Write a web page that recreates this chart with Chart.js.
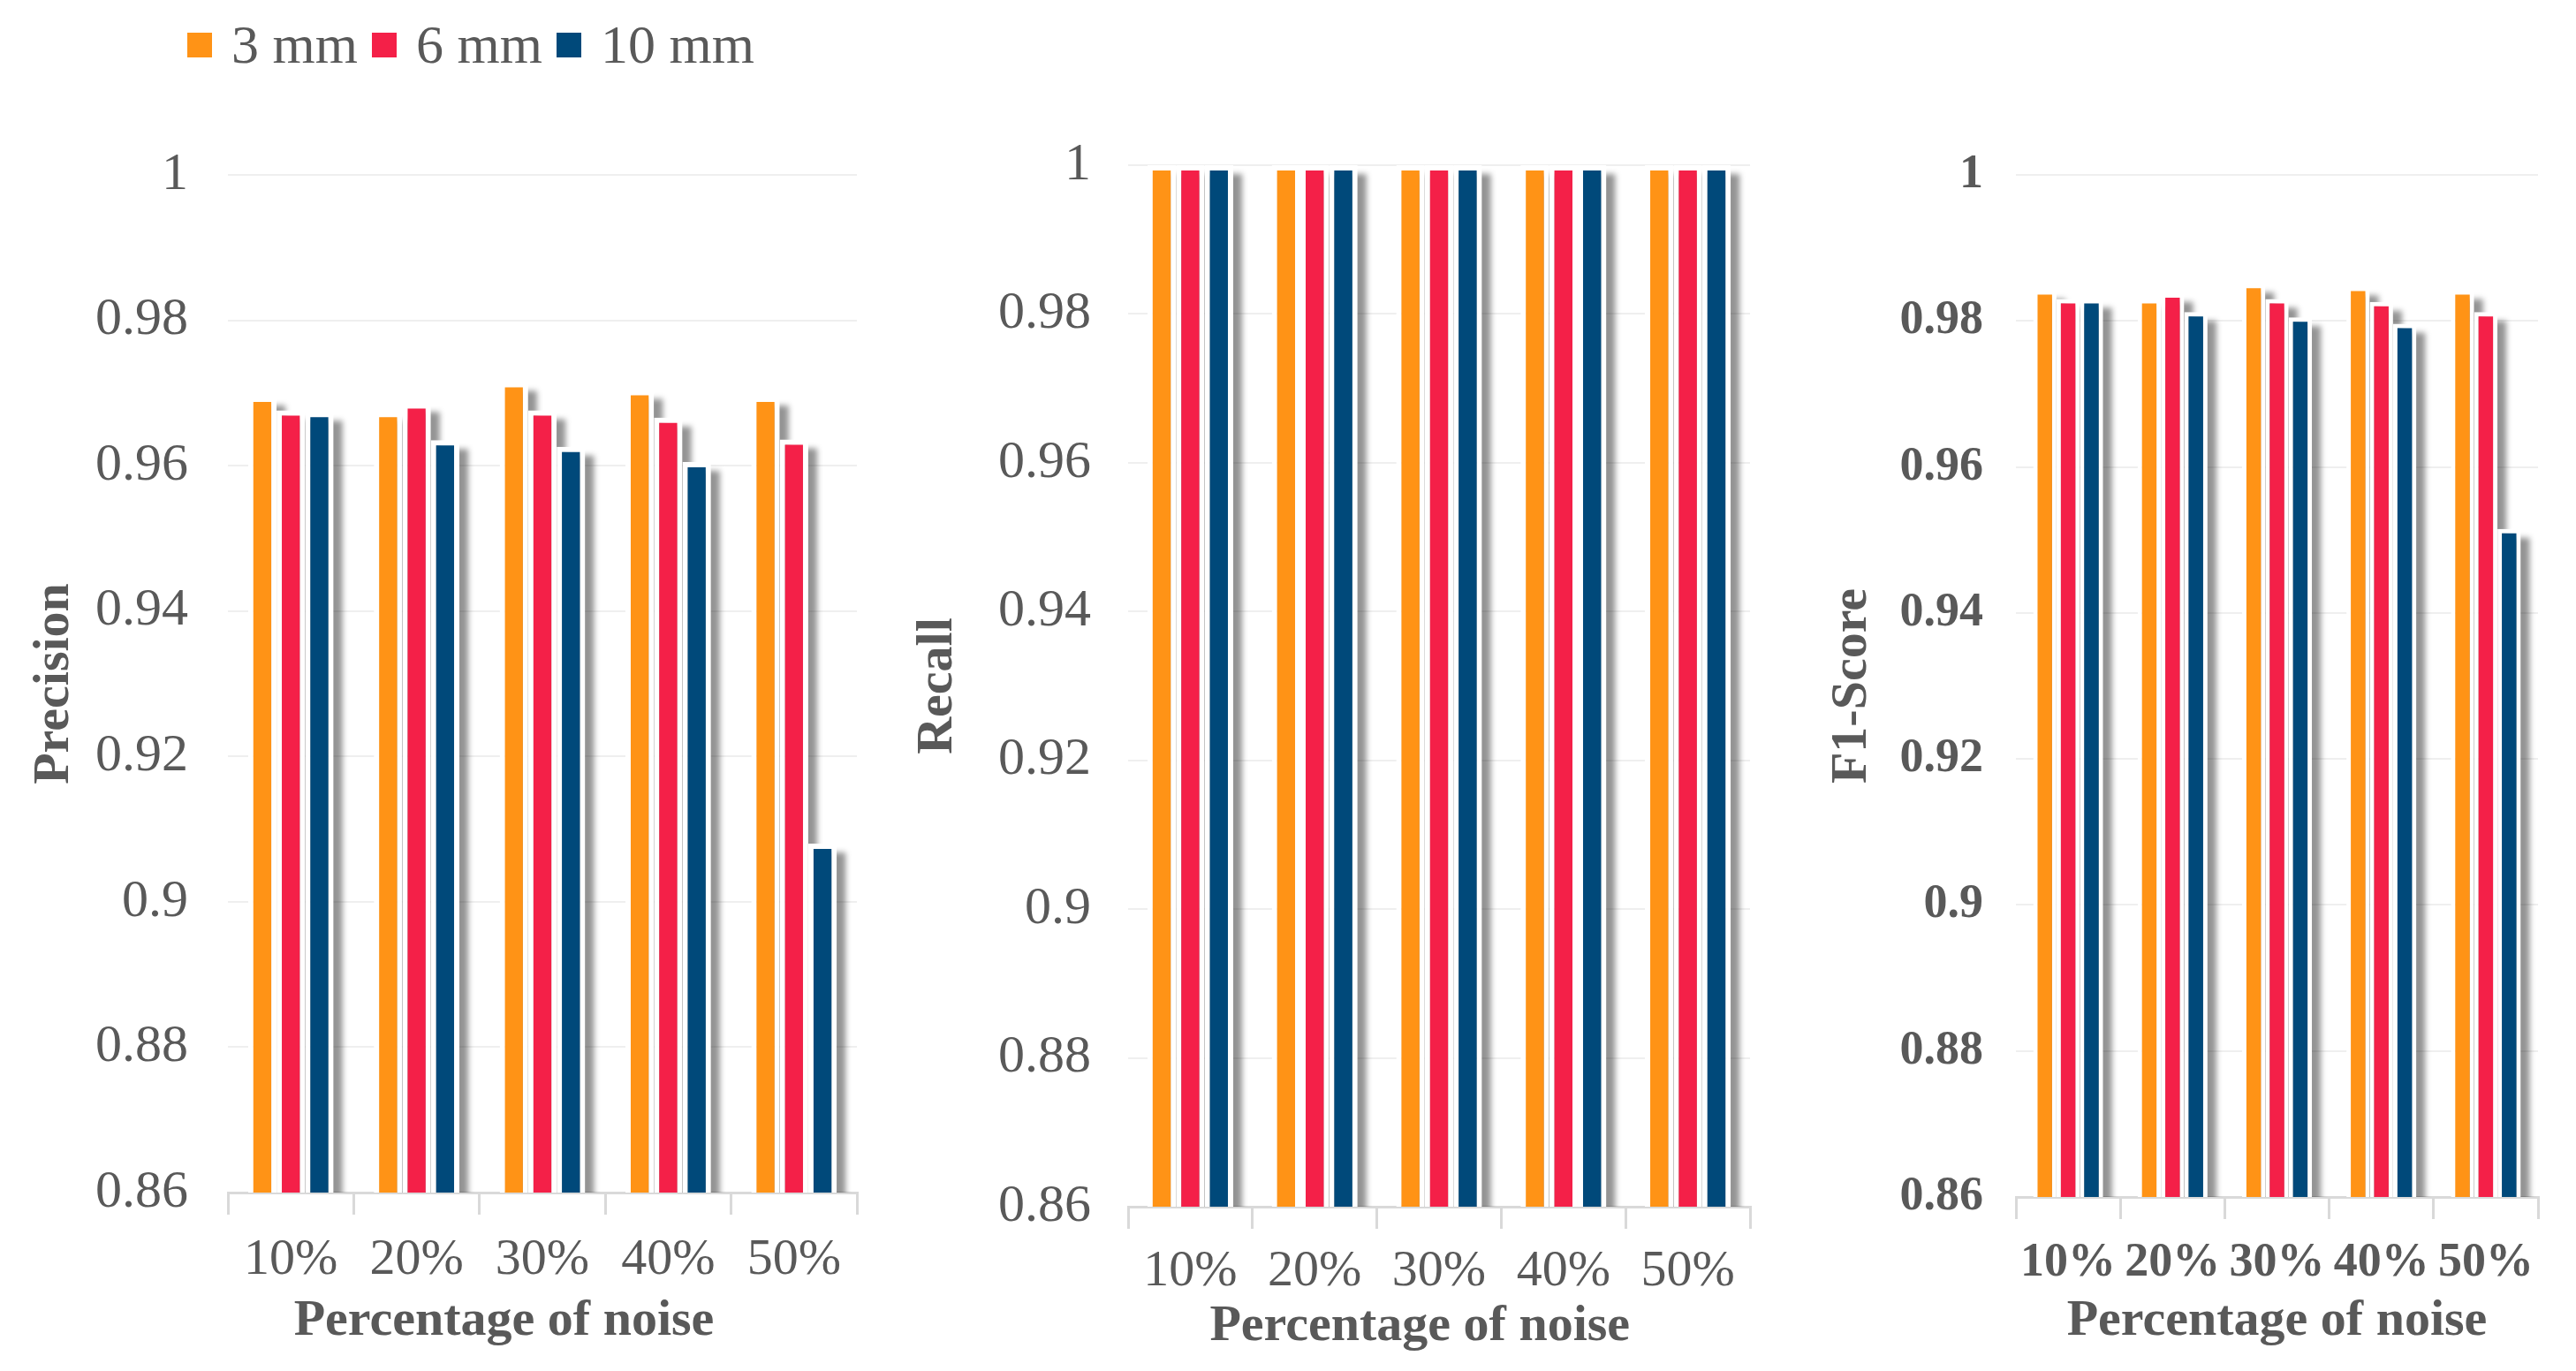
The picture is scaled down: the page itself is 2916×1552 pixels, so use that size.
<!DOCTYPE html>
<html>
<head>
<meta charset="utf-8">
<script src="https://cdn.jsdelivr.net/npm/chart.js@4.4.1/dist/chart.umd.min.js"></script>
<style>
  html, body { margin: 0; padding: 0; background: #fff; }
  body { width: 2916px; height: 1552px; position: relative; overflow: hidden; }
  .box { position: absolute; }
  #legend {
    position: absolute; left: 212px; top: 15px; display: flex; align-items: center;
    font-family: 'Liberation Serif', serif; font-size: 62px; color: #595959;
  }
  #legend .sw { width: 28px; height: 28px; margin-right: 22px; }
  #legend .lb { margin-right: 16px; }
</style>
</head>
<body>
<div id="legend"></div>
<div class="box" style="left:0px;top:150px;"><canvas id="precisionChart" width="990" height="1402"></canvas></div>
<div class="box" style="left:1000px;top:140px;"><canvas id="recallChart" width="1000" height="1412"></canvas></div>
<div class="box" style="left:2035px;top:150px;"><canvas id="f1Chart" width="881" height="1402"></canvas></div>
<script>
// data
const categories = ['10%', '20%', '30%', '40%', '50%'];
const seriesNames = ['3 mm', '6 mm', '10 mm'];
const seriesColors = ['#FF9316', '#F42048', '#00497A'];

const precision3 = [0.9695, 0.9674, 0.9715, 0.9704, 0.9695];
const precision6 = [0.9676, 0.9686, 0.9676, 0.9666, 0.9636];
const precision10 = [0.9674, 0.9635, 0.9626, 0.9605, 0.9080];

const recall3 = [1, 1, 1, 1, 1];
const recall6 = [1, 1, 1, 1, 1];
const recall10 = [1, 1, 1, 1, 1];

const f1Score3 = [0.9842, 0.9830, 0.9851, 0.9847, 0.9842];
const f1Score6 = [0.9830, 0.9838, 0.9830, 0.9826, 0.9812];
const f1Score10 = [0.9830, 0.9812, 0.9805, 0.9796, 0.9515];

const yMin = 0.86, yMax = 1, yStep = 0.02;
const textColor = '#595959';
const serif = "'Liberation Serif', serif";

// html legend
const legendEl = document.getElementById('legend');
seriesNames.forEach((name, i) => {
    const sw = document.createElement('span');
    sw.className = 'sw';
    sw.style.background = seriesColors[i];
    const lb = document.createElement('span');
    lb.className = 'lb';
    lb.textContent = name;
    legendEl.appendChild(sw);
    legendEl.appendChild(lb);
});

// soft grey drop shadow behind every bar
const barShadow = {
    id: 'barShadow',
    beforeDatasetsDraw(chart) {
        const ctx = chart.ctx;
        const area = chart.chartArea;
        ctx.save();
        ctx.beginPath();
        ctx.rect(area.left, area.top - 20, area.right - area.left + 30, area.bottom - area.top + 20);
        ctx.clip();
        ctx.filter = 'blur(3px)';
        ctx.fillStyle = 'rgba(0,0,0,0.42)';
        chart.data.datasets.forEach((ds, i) => {
            chart.getDatasetMeta(i).data.forEach(bar => {
                const p = bar.getProps(['x', 'y', 'base', 'width'], true);
                ctx.fillRect(p.x - p.width / 2 + 10, p.y + 10, p.width, p.base - p.y);
            });
        });
        ctx.restore();
    }
};

function makeChart(id, values, opt) {
    const datasets = values.map((arr, i) => ({
        label: seriesNames[i],
        data: arr,
        backgroundColor: seriesColors[i],
        borderColor: '#ffffff',
        borderWidth: {top: opt.border, left: opt.border, right: opt.border, bottom: 0},
        borderSkipped: false,
        categoryPercentage: opt.catPct,
        barPercentage: 1.0
    }));
    return new Chart(document.getElementById(id), {
        type: 'bar',
        data: {labels: categories, datasets: datasets},
        options: {
            responsive: false,
            animation: false,
            devicePixelRatio: 1,
            layout: {padding: {top: opt.padTop, right: opt.padRight, left: 0, bottom: 0}},
            plugins: {legend: {display: false}, tooltip: {enabled: false}},
            scales: {
                x: {
                    grid: {drawOnChartArea: false, drawTicks: true, tickLength: 25, color: '#d9d9d9', lineWidth: 3},
                    border: {display: true, color: '#d9d9d9', width: 3},
                    ticks: {
                        color: textColor, autoSkip: false, maxRotation: 0, minRotation: 0,
                        padding: opt.xTickPad,
                        font: {family: serif, size: opt.xTickSize, weight: opt.tickWeight}
                    },
                    title: {
                        display: true, text: opt.xTitle, color: textColor,
                        padding: {top: 0, bottom: opt.xTitlePad},
                        font: {family: serif, size: 58, weight: 'bold'}
                    },
                    afterFit(scale) { scale.height = opt.xHeight; }
                },
                y: {
                    min: yMin, max: yMax,
                    grid: {color: '#efefef', lineWidth: 2, drawTicks: false},
                    border: {display: false},
                    ticks: {
                        stepSize: yStep, color: textColor, padding: opt.yTickPad,
                        font: {family: serif, size: opt.yTickSize, weight: opt.tickWeight},
                        callback: v => String(+v.toFixed(2))
                    },
                    title: {
                        display: true, text: opt.yTitle, color: textColor,
                        padding: {top: 27, bottom: 0},
                        font: {family: serif, size: 58, weight: 'bold'}
                    },
                    afterFit(scale) {
                        scale.width = opt.yWidth;
                        // keep the plot top where the layout padding puts it
                        scale.paddingTop = 0;
                        scale.paddingBottom = 0;
                    }
                }
            }
        },
        plugins: [barShadow]
    });
}

makeChart('precisionChart', [precision3, precision6, precision10], {
    yTitle: 'Precision', xTitle: 'Percentage of noise      ',
    padTop: 48, padRight: 20, yWidth: 258, xHeight: 202,
    yTickPad: 45, xTickPad: 17, xTitlePad: 21, xTickSize: 58, yTickSize: 60,
    tickWeight: 'normal', border: 6, catPct: 0.68
});
makeChart('recallChart', [recall3, recall6, recall10], {
    yTitle: 'Recall', xTitle: 'Percentage of noise   ',
    padTop: 47, padRight: 19, yWidth: 277, xHeight: 186,
    yTickPad: 42, xTickPad: 14, xTitlePad: 15, xTickSize: 58, yTickSize: 60,
    tickWeight: 'normal', border: 6, catPct: 0.69
});
makeChart('f1Chart', [f1Score3, f1Score6, f1Score10], {
    yTitle: 'F1-Score', xTitle: 'Percentage of noise',
    padTop: 48, padRight: 43, yWidth: 247, xHeight: 197,
    yTickPad: 37, xTickPad: 18, xTitlePad: 21, xTickSize: 54, yTickSize: 54,
    tickWeight: 'bold', border: 5, catPct: 0.67
});
</script>
</body>
</html>
